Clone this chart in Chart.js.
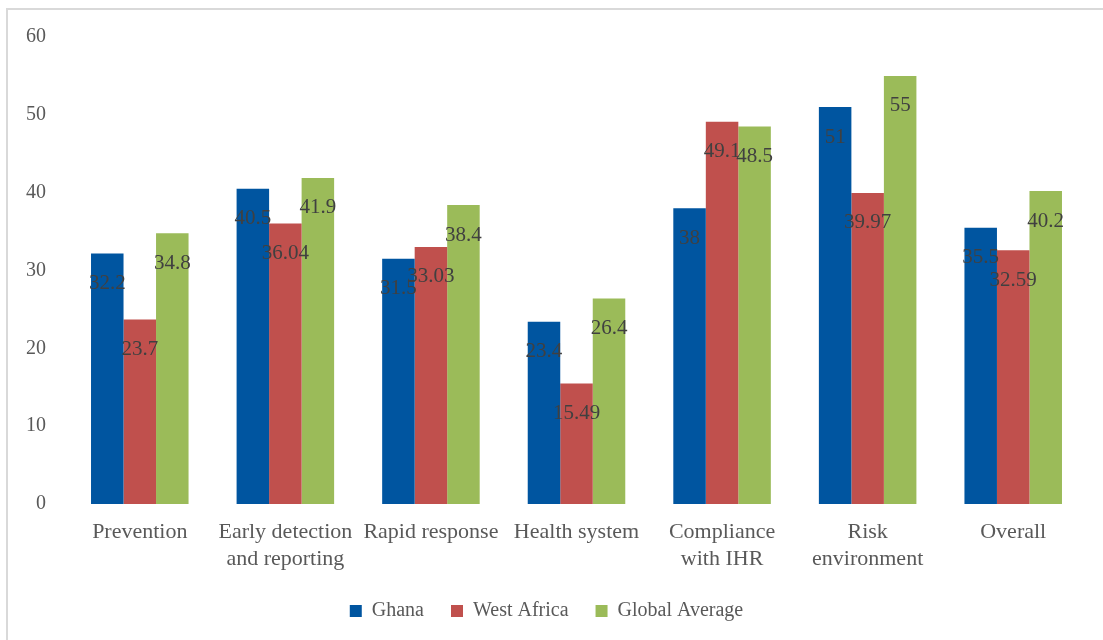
<!DOCTYPE html>
<html>
<head>
<meta charset="utf-8">
<script src="https://cdn.jsdelivr.net/npm/chart.js@4"></script>
<style>
    html, body { margin: 0; padding: 0; background: #ffffff; overflow: hidden; }
    #wrap { position: relative; width: 1103px; height: 640px; }
    #frame { position: absolute; left: 6px; top: 8px; width: 1120px; height: 660px; border: 2px solid #d9d9d9; }
    #chart { position: absolute; left: 0; top: 0; }
</style>
</head>
<body>
<div id="wrap">
    <div id="frame"></div>
    <canvas id="chart" width="1103" height="640"></canvas>
</div>
<script>
// Chart data
const categories = ['Prevention', ['Early detection', 'and reporting'], 'Rapid response', 'Health system',
    ['Compliance', 'with IHR'], ['Risk', 'environment'], 'Overall'];
const ghana = [32.2, 40.5, 31.5, 23.4, 38, 51, 35.5];
const westAfrica = [23.7, 36.04, 33.03, 15.49, 49.1, 39.97, 32.59];
const globalAverage = [34.8, 41.9, 38.4, 26.4, 48.5, 55, 40.2];
const yTicks = [0, 10, 20, 30, 40, 50, 60];

const serif = '"Liberation Serif", "DejaVu Serif", serif';

// Value labels drawn just inside the top of each bar
const valueLabels = {
    id: 'valueLabels',
    afterDatasetsDraw(chart) {
        const ctx = chart.ctx;
        ctx.save();
        ctx.font = '21px ' + serif;
        ctx.fillStyle = '#404040';
        ctx.textAlign = 'center';
        ctx.textBaseline = 'middle';
        chart.data.datasets.forEach((ds, i) => {
            chart.getDatasetMeta(i).data.forEach((bar, j) => {
                ctx.fillText(String(ds.data[j]), bar.x, bar.y + 30);
            });
        });
        ctx.restore();
    }
};

new Chart(document.getElementById('chart'), {
    type: 'bar',
    data: {
        labels: categories,
        datasets: [
            { label: 'Ghana', data: ghana, backgroundColor: '#0055A0' },
            { label: 'West Africa', data: westAfrica, backgroundColor: '#C0504D' },
            { label: 'Global Average', data: globalAverage, backgroundColor: '#9BBB59' }
        ]
    },
    options: {
        responsive: false,
        animation: false,
        layout: { padding: { left: 7, right: 17, top: 37, bottom: 9 } },
        datasets: { bar: { categoryPercentage: 0.67, barPercentage: 1.0 } },
        plugins: {
            tooltip: { enabled: false },
            legend: {
                position: 'bottom',
                maxHeight: 60,
                labels: {
                    boxWidth: 12,
                    boxHeight: 12,
                    padding: 27,
                    color: '#595959',
                    font: { family: serif, size: 20 }
                }
            }
        },
        scales: {
            x: {
                grid: { display: false, drawTicks: false },
                border: { display: false },
                ticks: {
                    autoSkip: false,
                    maxRotation: 0,
                    padding: 15,
                    color: '#595959',
                    font: { family: serif, size: 22, lineHeight: 1.23 }
                },
                afterFit(scale) { scale.height = 70; }
            },
            y: {
                min: 0,
                max: 60,
                grid: { display: false, drawTicks: false },
                border: { display: false },
                afterBuildTicks(scale) { scale.ticks = yTicks.map(v => ({ value: v })); },
                ticks: {
                    padding: 21,
                    color: '#595959',
                    font: { family: serif, size: 20 }
                },
                afterFit(scale) { scale.width = 60; }
            }
        }
    },
    plugins: [valueLabels]
});
</script>
</body>
</html>
